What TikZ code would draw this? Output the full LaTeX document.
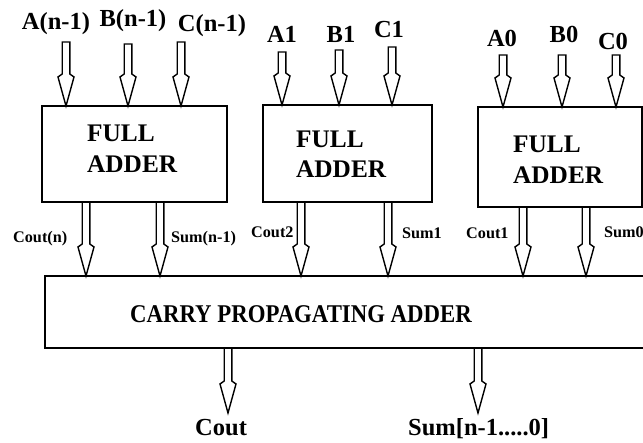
\documentclass[tikz,border=0pt]{standalone}
\usepackage{fontspec}
\setmainfont{Liberation Serif}
\usetikzlibrary{calc}
\begin{document}
\begin{tikzpicture}[x=1pt,y=-1pt,
  blockbox/.style={draw, line width=2pt, outer sep=0pt, inner sep=0pt},
  bus/.style={draw, line width=1.4pt, line join=miter,
    to path={let \p1=(\tikztostart), \p2=(\tikztotarget) in
      (\x1-3.8pt,\y1) -- (\x1-3.8pt,\y2+32pt) -- (\x1-8pt,\y2+29pt) -- (\x1,\y2)
      -- (\x1+8pt,\y2+29pt) -- (\x1+3.8pt,\y2+32pt) -- (\x1+3.8pt,\y1) -- cycle}},
  inlabel/.style={anchor=base, inner sep=0pt, font=\bfseries\fontsize{24.5}{24.5}\selectfont},
  midlabel/.style={anchor=base west, inner sep=0pt, font=\bfseries\fontsize{16.2}{16.2}\selectfont},
  outlabel/.style={anchor=base west, inner sep=0pt, font=\bfseries\fontsize{24.5}{24.5}\selectfont},
  boxtext/.style={anchor=base west, inner sep=0pt, font=\bfseries\fontsize{25.3}{25.3}\selectfont},
]
\useasboundingbox (0,0) rectangle (643,443);

% full adders and the carry propagating adder
\node[blockbox, anchor=north west, minimum width=185pt, minimum height=96pt] (fa1) at (42,106) {};
\node[blockbox, anchor=north west, minimum width=169pt, minimum height=97pt] (fa2) at (263,105) {};
\node[blockbox, anchor=north west, minimum width=164pt, minimum height=100pt] (fa3) at (478,107) {};
\node[blockbox, anchor=north west, minimum width=660pt, minimum height=72pt] (cpa) at (45,276) {};

\node[boxtext] (fa1a) at (87,142) {FULL};
\node[boxtext] (fa1b) at (87,173) {ADDER};
\node[boxtext] (fa2a) at (296,148) {FULL};
\node[boxtext] (fa2b) at (296,178) {ADDER};
\node[boxtext] (fa3a) at (513,153) {FULL};
\node[boxtext] (fa3b) at (513,184) {ADDER};
\node[anchor=base west, inner sep=0pt, font=\bfseries\fontsize{22.8}{22.8}\selectfont] (cpatext) at (130,323)
  {\scalebox{1}[1.12]{CARRY PROPAGATING ADDER}};

% input labels
\node[inlabel] (la2) at (56,30) {A(n-1)};
\node[inlabel] (lb2) at (133,27) {B(n-1)};
\node[inlabel] (lc2) at (212,32) {C(n-1)};
\node[inlabel] (la1) at (282,43) {A1};
\node[inlabel] (lb1) at (341,43) {B1};
\node[inlabel] (lc1) at (389,38) {C1};
\node[inlabel] (la0) at (502,47) {A0};
\node[inlabel] (lb0) at (564,43) {B0};
\node[inlabel] (lc0) at (613,50) {C0};

% input arrow tails
\coordinate (ia2) at (66,42);
\coordinate (ib2) at (128,44);
\coordinate (ic2) at (181,42);
\coordinate (ia1) at (282,52);
\coordinate (ib1) at (339,50);
\coordinate (ic1) at (392,47);
\coordinate (ia0) at (503,55);
\coordinate (ib0) at (562,55);
\coordinate (ic0) at (616,55);

\draw[bus] (ia2) to (ia2 |- fa1.north);
\draw[bus] (ib2) to (ib2 |- fa1.north);
\draw[bus] (ic2) to (ic2 |- fa1.north);
\draw[bus] (ia1) to (ia1 |- fa2.north);
\draw[bus] (ib1) to (ib1 |- fa2.north);
\draw[bus] (ic1) to (ic1 |- fa2.north);
\draw[bus] (ia0) to (ia0 |- fa3.north);
\draw[bus] (ib0) to (ib0 |- fa3.north);
\draw[bus] (ic0) to (ic0 |- fa3.north);

% carry and sum outputs of the full adders
\coordinate (oc2) at (86,0);
\coordinate (os2) at (160,0);
\coordinate (oc1) at (301,0);
\coordinate (os1) at (388,0);
\coordinate (oc0) at (523,0);
\coordinate (os0) at (586,0);

\draw[bus] (oc2 |- fa1.south) to (oc2 |- cpa.north);
\draw[bus] (os2 |- fa1.south) to (os2 |- cpa.north);
\draw[bus] (oc1 |- fa2.south) to (oc1 |- cpa.north);
\draw[bus] (os1 |- fa2.south) to (os1 |- cpa.north);
\draw[bus] (oc0 |- fa3.south) to (oc0 |- cpa.north);
\draw[bus] (os0 |- fa3.south) to (os0 |- cpa.north);

\node[midlabel] (lcoutn) at (13,243) {Cout(n)};
\node[midlabel] (lsumn) at (171,243) {Sum(n-1)};
\node[midlabel] (lcout2) at (251,238) {Cout2};
\node[midlabel] (lsum1) at (402,239) {Sum1};
\node[midlabel] (lcout1) at (466,239) {Cout1};
\node[midlabel] (lsum0) at (604,238) {Sum0};

% final outputs
\coordinate (fcout) at (228,413);
\coordinate (fsum) at (478,413);
\draw[bus] (fcout |- cpa.south) to (fcout);
\draw[bus] (fsum |- cpa.south) to (fsum);

\node[outlabel] (lcout) at (195,436) {Cout};
\node[outlabel] (lsum) at (408,436) {Sum[n-1.....0]};
\end{tikzpicture}
\end{document}
